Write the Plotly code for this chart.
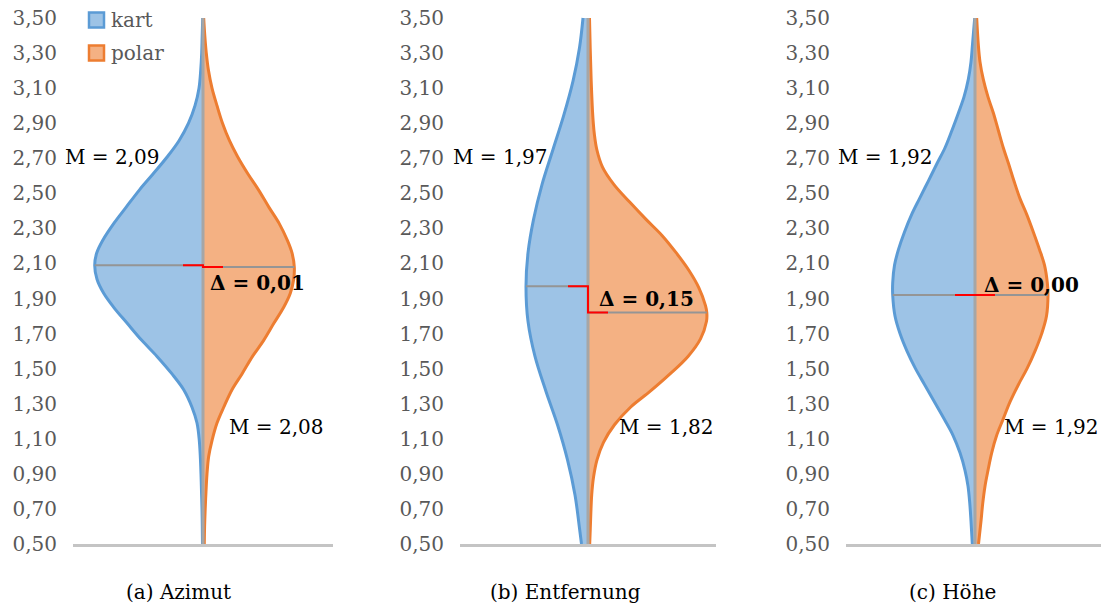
import numpy as np
import plotly.graph_objects as go

# ---------------- data ----------------
panels = ["(a) Azimut", "(b) Entfernung", "(c) Höhe"]
series_names = ["kart", "polar"]

median_kart = [2.09, 1.97, 1.92]
median_polar = [2.08, 1.82, 1.92]

azimut_kart_y = [3.50, 3.40, 3.30, 3.20, 3.10, 3.00, 2.90, 2.80, 2.71, 2.61, 2.52, 2.42, 2.33, 2.23, 2.16,
                 2.09, 2.01, 1.93, 1.85, 1.76, 1.66, 1.57, 1.47, 1.38, 1.28, 1.19, 1.09, 1.00, 0.90,
                 0.80, 0.70, 0.60, 0.50]
azimut_kart_w = [0.3, 0.8, 1.3, 2.3, 4.0, 8.0, 14.5, 24.0, 35.5, 50.0, 63.5, 77.0, 89.0, 100.5, 106.3,
                 108.3, 106.0, 99.3, 89.3, 76.0, 61.0, 46.0, 31.0, 19.3, 11.0, 6.0, 3.7, 2.7, 2.0,
                 1.5, 1.0, 0.7, 0.5]

azimut_polar_y = [3.50, 3.40, 3.30, 3.20, 3.10, 3.00, 2.90, 2.80, 2.71, 2.61, 2.52, 2.42, 2.33, 2.23, 2.16,
                  2.08, 2.01, 1.93, 1.85, 1.76, 1.66, 1.57, 1.47, 1.38, 1.28, 1.19, 1.09, 1.00, 0.90,
                  0.80, 0.70, 0.60, 0.50]
azimut_polar_w = [0.7, 1.8, 3.3, 5.5, 9.0, 14.0, 19.5, 26.5, 34.5, 45.0, 55.5, 66.0, 76.0, 84.5, 89.0,
                  91.3, 90.7, 87.3, 80.7, 71.0, 60.5, 49.5, 39.0, 29.0, 20.7, 14.0, 9.0, 5.7, 4.0,
                  3.0, 2.2, 1.6, 1.3]

entf_kart_y = [3.50, 3.33, 3.14, 2.94, 2.75, 2.55, 2.35, 2.16, 1.97, 1.77, 1.57, 1.37, 1.18, 0.98, 0.78, 0.59, 0.50]
entf_kart_w = [5.0, 8.5, 15.0, 24.5, 35.0, 46.0, 54.5, 60.0, 62.0, 60.0, 53.0, 42.0, 30.5, 20.5, 13.0, 8.5, 6.5]

entf_polar_y = [3.50, 3.33, 3.14, 2.94, 2.84, 2.75, 2.65, 2.55, 2.45, 2.35, 2.26, 2.16, 2.06, 1.96, 1.86, 1.82,
                1.77, 1.67, 1.57, 1.47, 1.37, 1.28, 1.18, 1.08, 0.98, 0.88, 0.78, 0.59, 0.50]
entf_polar_w = [1.5, 2.2, 3.2, 4.8, 6.3, 8.8, 14.5, 26.0, 41.7, 58.3, 74.0, 88.3, 101.0, 111.0, 117.5, 118.8,
                118.5, 112.5, 100.0, 82.0, 62.0, 42.5, 26.5, 15.5, 9.0, 5.5, 3.7, 2.3, 1.7]

hoehe_kart_y = [3.50, 3.35, 3.25, 3.15, 3.05, 2.96, 2.86, 2.76, 2.67, 2.57, 2.47, 2.38, 2.28, 2.18, 2.09, 1.99,
                1.92, 1.80, 1.70, 1.60, 1.50, 1.41, 1.31, 1.21, 1.12, 1.02, 0.92, 0.83, 0.73, 0.63, 0.50]
hoehe_kart_w = [0.3, 2.5, 4.0, 6.7, 11.0, 16.5, 23.0, 30.0, 38.0, 46.7, 55.5, 63.3, 70.5, 76.5, 80.5, 82.3,
                82.3, 80.0, 75.0, 68.0, 59.5, 50.5, 40.5, 30.5, 22.0, 15.0, 10.0, 7.0, 5.2, 4.0, 2.7]

hoehe_polar_y = [3.50, 3.35, 3.25, 3.15, 3.05, 2.96, 2.86, 2.76, 2.67, 2.57, 2.47, 2.38, 2.28, 2.18, 2.09, 1.99,
                 1.92, 1.80, 1.70, 1.60, 1.50, 1.41, 1.31, 1.21, 1.12, 1.02, 0.92, 0.83, 0.73, 0.63, 0.50]
hoehe_polar_w = [1.7, 3.3, 5.0, 8.3, 13.0, 18.3, 23.3, 28.3, 33.5, 39.0, 45.0, 51.7, 58.3, 64.5, 69.5, 72.3,
                 73.0, 71.5, 66.7, 60.0, 52.0, 43.5, 35.0, 28.0, 21.7, 16.7, 13.0, 10.0, 7.7, 6.0, 3.5]

tick_values = [0.50, 0.70, 0.90, 1.10, 1.30, 1.50, 1.70, 1.90, 2.10, 2.30, 2.50, 2.70, 2.90, 3.10, 3.30, 3.50]

# ---------------- style / layout ----------------
PAGE_OFF = 8                 # default page body margin of the browser
W, H = 1109 - PAGE_OFF, 607 - PAGE_OFF
FONT = "DejaVu Serif"
BLUE_LINE, BLUE_FILL = "#5B9BD5", "#9DC3E6"
ORANGE_LINE, ORANGE_FILL = "#ED7D31", "#F4B183"
GRAY_CENTER = "#A6A6A6"
GRAY_MEDIAN = "#959595"
RED = "#FF0000"
TICK_COLOR = "#595959"

px_left = [73, 460, 846]
px_center = [203, 588, 975]
px_right = [333, 716, 1104]
RED_LEN = 20

upper_label_cx = [112, 500, 885]
lower_label_cx = [276, 666, 1051]
delta_cx = [257, 646, 1031]
delta_y = [1.99, 1.90, 1.98]
caption_cx = [178, 565, 952]


def fx(px):
    return (px - PAGE_OFF) / W


def fy(py):
    return 1 - (py - PAGE_OFF) / H


kart_data = [(azimut_kart_y, azimut_kart_w), (entf_kart_y, entf_kart_w), (hoehe_kart_y, hoehe_kart_w)]
polar_data = [(azimut_polar_y, azimut_polar_w), (entf_polar_y, entf_polar_w), (hoehe_polar_y, hoehe_polar_w)]


def fmt(v):
    return f"{v:.2f}".replace(".", ",")


fig = go.Figure()
annotations = []
Y_BOTTOM_PX, Y_TOP_PX = 544, 14.5
y_dom = [fy(Y_BOTTOM_PX), fy(Y_TOP_PX)]

for i in range(3):
    n = "" if i == 0 else str(i + 1)
    xa, ya = "x" + n, "y" + n
    ky, kw = kart_data[i]
    py_, pw = polar_data[i]

    fig.add_trace(go.Scatter(x=[-w for w in kw], y=ky, mode="lines", fill="tozerox",
                             fillcolor=BLUE_FILL,
                             line=dict(color=BLUE_LINE, width=3, shape="spline", smoothing=1.0),
                             xaxis=xa, yaxis=ya, showlegend=False, hoverinfo="skip"))
    fig.add_trace(go.Scatter(x=pw, y=py_, mode="lines", fill="tozerox",
                             fillcolor=ORANGE_FILL,
                             line=dict(color=ORANGE_LINE, width=3, shape="spline", smoothing=1.0),
                             xaxis=xa, yaxis=ya, showlegend=False, hoverinfo="skip"))
    fig.add_trace(go.Scatter(x=[0, 0], y=[0.5, 3.5], mode="lines",
                             line=dict(color=GRAY_CENTER, width=3),
                             xaxis=xa, yaxis=ya, showlegend=False, hoverinfo="skip"))
    mk, mp = median_kart[i], median_polar[i]
    wk = float(np.interp(mk, ky[::-1], kw[::-1]))
    wp = float(np.interp(mp, py_[::-1], pw[::-1]))
    fig.add_trace(go.Scatter(x=[-wk, 0], y=[mk, mk], mode="lines",
                             line=dict(color=GRAY_MEDIAN, width=2),
                             xaxis=xa, yaxis=ya, showlegend=False, hoverinfo="skip"))
    fig.add_trace(go.Scatter(x=[0, wp], y=[mp, mp], mode="lines",
                             line=dict(color=GRAY_MEDIAN, width=2),
                             xaxis=xa, yaxis=ya, showlegend=False, hoverinfo="skip"))
    fig.add_trace(go.Scatter(x=[-RED_LEN, 0, 0, RED_LEN], y=[mk, mk, mp, mp], mode="lines",
                             line=dict(color=RED, width=2),
                             xaxis=xa, yaxis=ya, showlegend=False, hoverinfo="skip"))

    fig.update_layout(**{
        ("xaxis" + n): dict(domain=[fx(px_left[i]), fx(px_right[i])],
                            range=[px_left[i] - px_center[i], px_right[i] - px_center[i]],
                            showline=True, linecolor="#C4C4C4", linewidth=3, automargin=False,
                            showticklabels=False, ticks="", showgrid=False, zeroline=False,
                            anchor=ya),
        ("yaxis" + n): dict(domain=y_dom, range=[0.5, 3.52], anchor=xa, automargin=False,
                            tickvals=tick_values, ticktext=[fmt(v) for v in tick_values],
                            tickfont=dict(family=FONT, size=20, color=TICK_COLOR),
                            ticklabeloverflow="allow",
                            showline=False, showgrid=False, zeroline=False, ticks="",
                            ticklabelstandoff=15),
    })

    annotations.append(dict(text=f"M = {fmt(mk)}", xref="paper", yref=ya,
                            x=fx(upper_label_cx[i]), y=2.71, xanchor="center", yanchor="middle",
                            showarrow=False, font=dict(family=FONT, size=20, color="#000000")))
    annotations.append(dict(text=f"M = {fmt(mp)}", xref="paper", yref=ya,
                            x=fx(lower_label_cx[i]), y=1.167, xanchor="center", yanchor="middle",
                            showarrow=False, font=dict(family=FONT, size=20, color="#000000")))
    annotations.append(dict(text=f"<b>Δ = {fmt(abs(mk - mp))}</b>", xref="paper", yref=ya,
                            x=fx(delta_cx[i]), y=delta_y[i], xanchor="center", yanchor="middle",
                            showarrow=False, font=dict(family=FONT, size=20, color="#000000")))
    annotations.append(dict(text=panels[i], xref="paper", yref="paper",
                            x=fx(caption_cx[i]), y=fy(592), xanchor="center", yanchor="middle",
                            showarrow=False, font=dict(family=FONT, size=20, color="#000000")))

shapes = []
for j, (name, lc, fc) in enumerate(zip(series_names, [BLUE_LINE, ORANGE_LINE], [BLUE_FILL, ORANGE_FILL])):
    cy = 20 + j * 33
    shapes.append(dict(type="rect", xref="paper", yref="paper",
                       x0=fx(89), x1=fx(104), y0=fy(cy + 7.5), y1=fy(cy - 7.5),
                       fillcolor=fc, line=dict(color=lc, width=2.5)))
    annotations.append(dict(text=name, xref="paper", yref="paper", x=fx(109), y=fy(cy),
                            xanchor="left", yanchor="middle", showarrow=False,
                            font=dict(family=FONT, size=20, color=TICK_COLOR)))

fig.update_layout(template="none", width=W, height=H, margin=dict(l=0, r=0, t=0, b=0, pad=0),
                  paper_bgcolor="white", plot_bgcolor="white",
                  annotations=annotations, shapes=shapes, showlegend=False)

fig.write_html("out.html")
